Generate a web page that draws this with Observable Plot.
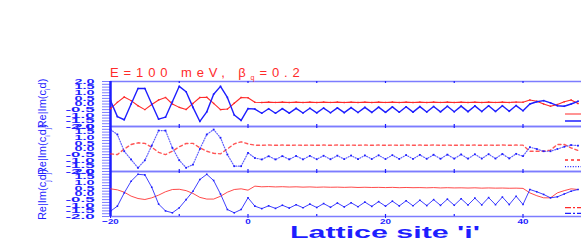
<!DOCTYPE html>
<html><head><meta charset="utf-8">
<script src="https://cdn.jsdelivr.net/npm/d3@7"></script>
<script src="https://cdn.jsdelivr.net/npm/@observablehq/plot@0.6"></script>
<style>
html,body{margin:0;padding:0;background:#fff;overflow:hidden;width:581px;height:245px}
#chart{position:absolute;left:0;top:0;width:600px;height:245px}
#chart svg{max-width:none !important;width:600px;height:245px}
</style></head><body><div id="chart"></div>
<script>
const sites = [-20,-19,-18,-17,-16,-15,-14,-13,-12,-11,-10,-9,-8,-7,-6,-5,-4,-3,-2,-1,0,
  1,2,3,4,5,6,7,8,9,10,11,12,13,14,15,16,17,18,19,20,21,22,23,24,25,26,27,28,29,30,
  31,32,33,34,35,36,37,38,39,40,41,42,43,44,45,46,47,48];

const panel1Blue = [0.3,-1.12,-1.4,0.0,1.38,1.38,0.0,-1.35,-1.17,0.2,1.57,1.09,-0.3,-1.55,-0.7,0.87,1.57,0.58,-0.98,-1.46,-0.41,
  -0.45,-0.82,-0.42,-0.82,-0.41,-0.81,-0.39,-0.80,-0.38,-0.79,-0.36,-0.78,-0.34,-0.77,-0.32,-0.76,-0.30,-0.75,-0.28,-0.74,
  -0.26,-0.73,-0.25,-0.72,-0.23,-0.71,-0.22,-0.70,-0.20,-0.69,-0.19,-0.68,-0.17,-0.67,-0.16,-0.66,-0.15,-0.65,-0.14,-0.60,
  0.0,0.2,0.3,0.1,-0.15,-0.2,0.0,0.24];
const panel1Red = [-0.41,0.15,0.62,0.3,-0.15,-0.5,-0.05,0.36,0.58,0.0,-0.3,-0.49,0.05,0.58,0.6,0.05,-0.5,-0.45,0.07,0.58,0.55,
  0.15,0.14,0.17,0.14,0.17,0.14,0.17,0.14,0.17,0.14,0.17,0.14,0.17,0.14,0.17,0.14,0.17,0.14,0.17,0.14,
  0.17,0.14,0.17,0.14,0.17,0.14,0.17,0.14,0.17,0.14,0.17,0.14,0.17,0.14,0.17,0.14,0.17,0.14,0.17,0.15,
  0.36,0.25,0.0,-0.2,-0.05,0.2,0.36,0.05];
const panel2Blue = [1.73,1.29,-0.2,-0.93,-1.67,-1.0,0.3,1.64,1.64,0.1,-1.0,-1.67,-1.38,0.0,1.29,1.73,1.0,-0.49,-1.53,-1.53,-0.34,
  -0.80,-0.93,-0.64,-0.93,-0.63,-0.92,-0.62,-0.92,-0.61,-0.91,-0.60,-0.91,-0.59,-0.90,-0.58,-0.90,-0.57,-0.89,-0.56,-0.89,
  -0.55,-0.88,-0.54,-0.88,-0.52,-0.87,-0.51,-0.87,-0.50,-0.86,-0.48,-0.86,-0.47,-0.85,-0.46,-0.85,-0.44,-0.84,-0.43,-0.64,
  0.16,0.0,-0.2,-0.2,0.0,0.2,0.35,0.3];
const panel2Red = [-0.43,-0.5,0.0,0.4,0.55,0.5,0.16,-0.3,-0.5,-0.2,0.2,0.49,0.5,0.1,-0.2,-0.38,-0.43,0.0,0.46,0.64,0.46,
  0.34,0.33,0.35,0.33,0.35,0.33,0.35,0.33,0.35,0.33,0.35,0.33,0.35,0.33,0.35,0.33,0.35,0.33,0.35,0.33,
  0.35,0.33,0.35,0.33,0.35,0.33,0.35,0.33,0.35,0.33,0.35,0.33,0.35,0.33,0.35,0.33,0.35,0.33,0.35,0.34,
  -0.2,-0.2,-0.2,-0.1,0.4,0.4,0.1,-0.13];
const panel3Blue = [-1.53,-1.08,0.1,1.14,1.75,1.7,0.6,-0.9,-1.5,-1.67,-1.23,-0.5,0.25,1.29,1.75,1.2,0.0,-1.38,-1.67,-1.38,-0.34,
  -1.08,-1.30,-1.05,-1.28,-1.00,-1.25,-0.95,-1.22,-0.90,-1.20,-0.85,-1.18,-0.80,-1.15,-0.78,-1.13,-0.72,-1.10,-0.68,-1.08,
  -0.64,-1.06,-0.60,-1.05,-0.55,-1.03,-0.50,-1.01,-0.46,-1.00,-0.42,-0.98,-0.37,-0.97,-0.32,-0.95,-0.27,-0.94,-0.20,-0.93,
  0.4,0.2,-0.04,-0.34,-0.25,0.0,0.25,0.4];
const panel3Red = [0.46,0.37,0.16,-0.19,-0.4,-0.49,-0.34,-0.1,0.2,0.4,0.42,0.3,0.05,-0.3,-0.45,-0.45,-0.2,0.16,0.4,0.46,0.34,
  0.70,0.64,0.66,0.63,0.65,0.62,0.64,0.61,0.63,0.60,0.62,0.60,0.61,0.59,0.61,0.58,0.60,0.58,0.59,0.57,
  0.59,0.56,0.58,0.56,0.57,0.55,0.57,0.54,0.56,0.54,0.55,0.53,0.55,0.52,0.54,0.52,0.53,0.51,0.52,0.50,
  0.1,-0.15,-0.34,-0.34,0.1,0.3,0.46,0.4];

const panels = ["p1","p2","p3"];
const yLabelTicks = [2.0,1.5,1.0,0.5,0.0,-0.5,-1.0,-1.5,-2.0];
const yMinorTicks = [2.0,1.75,1.5,1.25,1.0,0.75,0.5,0.25,0.0,-0.25,-0.5,-0.75,-1.0,-1.25,-1.5,-1.75,-2.0];
const xLabelTicks = [-20,0,20,40];
const xMinorTicks = [-10,0,10,20,30,40];
const yTitles = [["Re|Im(c","i","d",")"],["Re|Im(c","i","d","j",")"],["Re|Im(c","j","d","j",")"]];
const titleParts = ["E=100 meV, β","q","=0.2"];
const xTitle = "Lattice site 'i'";

const BLUE = "#1e1eff", RED = "#ff2a2a", LIGHT = "#7c7cff";
const FONT = "Liberation Sans, Arial, sans-serif";
const rows = (vals, panel) => sites.map((s, k) => ({site: s, value: vals[k], panel}));
const d1b = rows(panel1Blue, "p1"), d1r = rows(panel1Red, "p1");
const d2b = rows(panel2Blue, "p2"), d2r = rows(panel2Red, "p2");
const d3b = rows(panel3Blue, "p3"), d3r = rows(panel3Red, "p3");

const chart = Plot.plot({
  width: 600, height: 245,
  marginLeft: 110, marginRight: 8.75, marginTop: 80, marginBottom: 28,
  style: {fontFamily: FONT, background: "transparent", overflow: "visible", maxWidth: "none"},
  x: {domain: [-20, 50]},
  y: {domain: [-2, 2]},
  fy: {domain: panels, padding: 0, axis: null},
  marks: [
    Plot.ruleY([2, -2], {stroke: LIGHT, strokeWidth: 1.6}),
    Plot.ruleX(xMinorTicks, {x: d => d, y1: 2, y2: 1.82, stroke: BLUE, strokeWidth: 1.2}),
    Plot.ruleX(xMinorTicks, {x: d => d, y1: -2, y2: -1.82, stroke: BLUE, strokeWidth: 1.2}),
    Plot.axisY(yMinorTicks, {tickSize: 8, stroke: LIGHT, strokeWidth: 1, text: null, label: null}),
    Plot.axisY(yLabelTicks, {tickSize: 0, tickPadding: 16, fill: BLUE, fontSize: 7, fontWeight: "bold", label: null, tickFormat: d => d.toFixed(1)}),
    Plot.axisX(xLabelTicks, {tickSize: 2, tickPadding: 0, fill: BLUE, stroke: BLUE, fontSize: 8, fontWeight: "bold", label: null}),
    Plot.ruleX([-20], {stroke: BLUE, strokeWidth: 2.5}),
    // panel 1
    Plot.line(d1r, {x: "site", y: "value", fy: "panel", stroke: RED, strokeWidth: 1.1}),
    Plot.dot(d1r, {x: "site", y: "value", fy: "panel", fill: RED, r: 0.8, symbol: "square"}),
    Plot.line(d1b, {x: "site", y: "value", fy: "panel", stroke: BLUE, strokeWidth: 1.4}),
    Plot.dot(d1b, {x: "site", y: "value", fy: "panel", fill: BLUE, r: 0.9, symbol: "square"}),
    // panel 2
    Plot.line(d2r, {x: "site", y: "value", fy: "panel", stroke: RED, strokeWidth: 1.4, strokeDasharray: "3,3", strokeOpacity: 0.8}),
    Plot.line(d2b, {x: "site", y: "value", fy: "panel", stroke: BLUE, strokeWidth: 1.2, strokeDasharray: "1,1.6", strokeOpacity: 0.7}),
    Plot.dot(d2b, {x: "site", y: "value", fy: "panel", fill: BLUE, r: 1, symbol: "square"}),
    // panel 3
    Plot.line(d3r, {x: "site", y: "value", fy: "panel", stroke: RED, strokeWidth: 1, strokeOpacity: 0.85}),
    Plot.line(d3b, {x: "site", y: "value", fy: "panel", stroke: BLUE, strokeWidth: 1, strokeOpacity: 0.85}),
    Plot.dot(d3b, {x: "site", y: "value", fy: "panel", fill: BLUE, r: 0.9, symbol: "square"})
  ]
});
document.getElementById("chart").appendChild(chart);

const svg = d3.select(chart);
// stretch the y tick labels like the original
svg.selectAll('g[aria-label="y-axis tick label"] text').each(function() {
  const t = this.textContent;
  let L = 0; for (const c of t) L += c === "." ? 4 : c === "-" ? 9 : 8;
  d3.select(this).attr("textLength", L).attr("lengthAdjust", "spacingAndGlyphs");
});
svg.selectAll('g[aria-label="x-axis tick label"] text').each(function() {
  const t = this.textContent;
  d3.select(this).attr("textLength", t.length * 5.5).attr("lengthAdjust", "spacingAndGlyphs");
});

// title
const title = svg.append("text").attr("x", 110).attr("y", 77).attr("text-anchor", "start")
  .attr("fill", RED).attr("font-size", 13).attr("letter-spacing", 4.9)
  .attr("font-family", FONT);
title.append("tspan").text(titleParts[0]);
title.append("tspan").attr("font-size", 7).attr("dy", 3).text(titleParts[1]);
title.append("tspan").attr("dy", -3).text(titleParts[2]);

// x title
svg.append("text").attr("x", 290).attr("y", 238).attr("text-anchor", "start").attr("fill", BLUE)
  .attr("font-size", 17).attr("font-weight", "bold").attr("textLength", 190)
  .attr("lengthAdjust", "spacingAndGlyphs")
  .attr("font-family", FONT).text(xTitle);

// y titles
const centers = [103.5, 149.5, 194.5];
yTitles.forEach((parts, k) => {
  const t = svg.append("text").attr("transform", `translate(46,${centers[k]}) rotate(-90)`)
    .attr("text-anchor", "middle").attr("fill", BLUE).attr("font-size", 11)
    .attr("font-family", FONT);
  parts.forEach((p, j) => {
    const isSub = (p.length === 1 && p !== ")" && p !== "d");
    const sp = t.append("tspan").text(p);
    if (isSub) sp.attr("font-size", 7).attr("dy", 4);
    else if (j > 0 && parts[j-1].length === 1 && parts[j-1] !== ")" && parts[j-1] !== "d") sp.attr("dy", -4);
  });
});

// legend swatches (clipped at right edge like the original)
const legend = [
  [114, RED, null, 1.2], [121, BLUE, null, 1.5],
  [160, RED, "3,3", 1.4], [166.7, BLUE, "1,1.6", 1.2],
  [207.7, RED, "6,2,2,2", 1.2], [213.3, BLUE, "6,2,2,2", 1.2]
];
legend.forEach(([y, c, dash, w]) => {
  const l = svg.append("line").attr("x1", 565).attr("x2", 600).attr("y1", y).attr("y2", y)
    .attr("stroke", c).attr("stroke-width", w);
  if (dash) l.attr("stroke-dasharray", dash);
});
</script></body></html>
